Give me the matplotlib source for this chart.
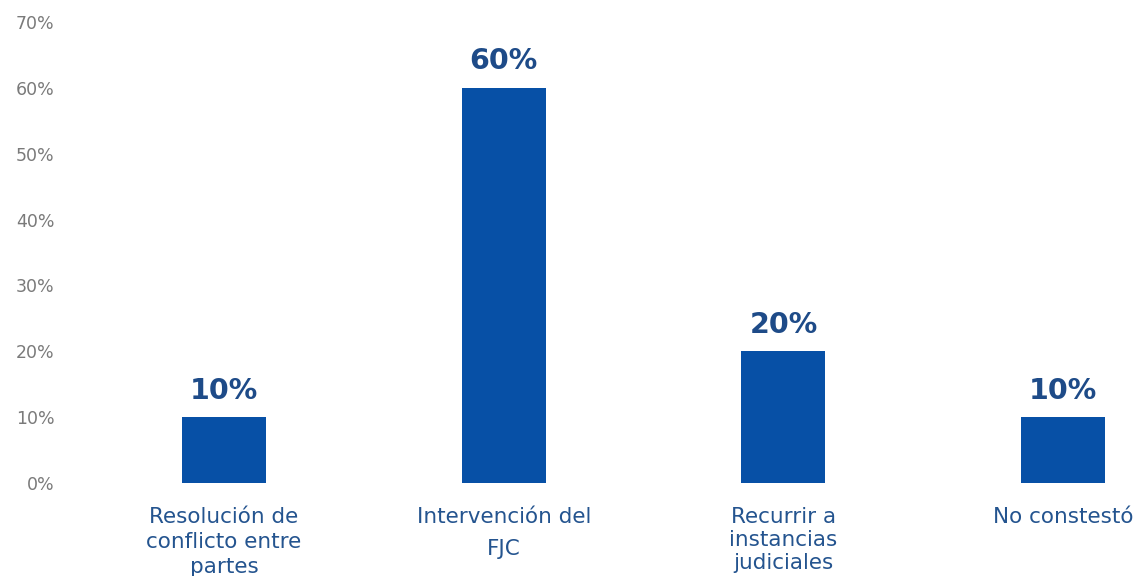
import numpy as np
import matplotlib
matplotlib.use("Agg")
import matplotlib.pyplot as plt

categories = ["Resolución de\nconflicto entre\npartes",
              "Intervención del\nFJC",
              "Recurrir a\ninstancias\njudiciales",
              "No constestó"]
values = [0.10, 0.60, 0.20, 0.10]
value_labels = ["10%", "60%", "20%", "10%"]
yticks = [0.0, 0.1, 0.2, 0.3, 0.4, 0.5, 0.6, 0.7]
ytick_labels = ["0%", "10%", "20%", "30%", "40%", "50%", "60%", "70%"]

BAR = "#0750a6"
VAL = "#1e4b88"
CAT = "#24548f"

W, H = 1138, 576
fig = plt.figure(figsize=(W / 100, H / 100), dpi=100)
# axes placed in pixel terms: zero line ~483 px, 70% ~22 px from top
left, right = 70, W
bottom, top = H - 483, H - 22
ax = fig.add_axes((left / W, bottom / H, (right - left) / W, (top - bottom) / H))

x = np.arange(len(categories))
ax.bar(x, values, width=0.3, color=BAR, zorder=2)
for xi, v, lab in zip(x, values, value_labels):
    ax.annotate(lab, (xi, v), xytext=(0, 9), textcoords="offset points",
                ha="center", va="bottom", fontsize=20.5, fontweight="heavy",
                color=VAL, family="DejaVu Sans")

# bar centres at 224 px, spacing ~280 px
step = 279.7
ax.set_xlim((left - 224) / step, (right - 224) / step)
ax.set_ylim(0, 0.70)
ax.set_yticks(yticks)
ax.set_yticklabels(ytick_labels, fontsize=12.5, color="#7a7a7a")
ax.set_xticks(x)
ax.set_xticklabels(categories, fontsize=15.5, color=CAT)
spacing = [1.32, 1.8, 1.2, 1.0]
for lab, ls in zip(ax.get_xticklabels(), spacing):
    lab.set_linespacing(ls)
ax.tick_params(axis="x", length=0, pad=17)
ax.tick_params(axis="y", length=0, pad=11)
for s in ax.spines.values():
    s.set_visible(False)

fig.savefig("out.png", dpi=100)
